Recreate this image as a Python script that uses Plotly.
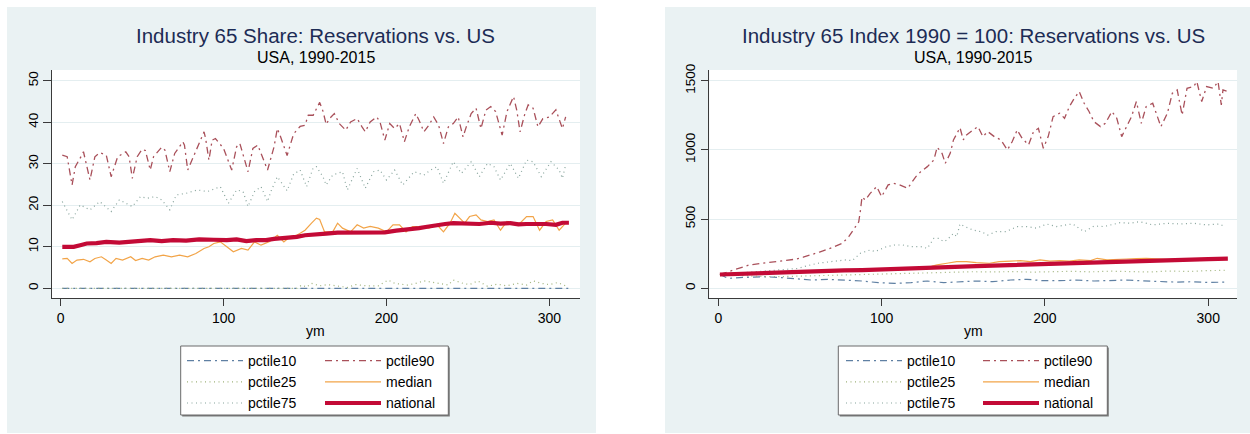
import plotly.graph_objects as go

# ---------------------------------------------------------------
# Monthly series (ym = months since Jan 1990), Industry 65
# ---------------------------------------------------------------

# Share panel (percent)
share_p10_x = [1, 60, 120, 180, 240, 312]
share_p10 = [0, 0, 0, 0, 0, 0]

share_p25_x = [1, 60, 120, 145, 148, 151, 154, 159, 164, 171, 176, 181, 188, 195, 201,
               205, 210, 213, 218, 223, 226, 232, 238, 241, 247, 251, 256, 262, 268,
               274, 280, 286, 290, 295, 300, 305, 310]
share_p25 = [0, 0, 0, 0, 0.8, 0.3, 1.2, 0.6, 0.9, 0.4, 0.2, 0.9, 0.6, 0.6, 2.0,
             1.2, 0.9, 0.8, 1.2, 1.8, 1.6, 1.2, 0.8, 2.0, 1.2, 0.9, 1.8, 0.5, 1.0,
             0.6, 1.2, 0.8, 1.8, 1.2, 0.9, 1.4, 0.6]

share_median_x = [1, 4, 7, 10, 14, 18, 21, 25, 28, 31, 34, 38, 43, 46, 50, 54, 58, 63,
                  68, 73, 78, 83, 88, 91, 94, 98, 102, 106, 111, 115, 119, 123, 128,
                  133, 137, 141, 145, 150, 154, 157, 159, 162, 167, 170, 173, 178, 182,
                  186, 190, 195, 200, 204, 208, 212, 216, 221, 226, 231, 235, 239, 242,
                  245, 248, 251, 255, 258, 262, 266, 270, 274, 278, 282, 286, 290, 294,
                  298, 302, 306, 310]
share_median = [7.1, 7.2, 6.0, 6.8, 7.0, 6.4, 7.2, 7.6, 6.8, 6.0, 7.2, 6.8, 7.6, 6.7,
                7.2, 6.8, 7.6, 8.0, 7.6, 8.0, 7.6, 8.4, 9.6, 10.0, 10.8, 11.2, 10.0, 8.8,
                9.6, 9.2, 11.2, 10.4, 11.2, 12.8, 11.2, 12.5, 12.8, 14.0, 15.7, 16.9,
                16.6, 13.6, 13.6, 15.7, 14.5, 13.6, 15.3, 14.5, 14.9, 14.5, 13.6, 15.3,
                15.3, 13.6, 14.9, 14.9, 14.5, 15.3, 13.6, 15.7, 18.1, 16.9, 15.7, 17.3,
                17.7, 16.5, 16.1, 16.5, 14.0, 16.1, 15.7, 15.7, 17.3, 17.3, 14.0, 16.1,
                16.5, 14.0, 15.7]

share_p75_x = [1, 7, 12, 18, 24, 31, 36, 44, 49, 53, 58, 62, 67, 71, 77, 84, 90, 98,
               103, 108, 112, 115, 119, 123, 127, 129, 133, 139, 143, 147, 151, 155, 157,
               161, 163, 167, 173, 176, 182, 187, 192, 196, 200, 205, 210, 217, 223, 227,
               231, 235, 241, 246, 252, 257, 262, 266, 270, 276, 281, 286, 290, 295, 301,
               306, 308, 310]
share_p75 = [20.9, 16.5, 20.1, 18.9, 20.9, 18.5, 21.3, 19.7, 22.1, 21.7, 22.1, 21.3,
             18.9, 22.5, 22.9, 23.7, 23.3, 24.5, 20.5, 23.7, 23.3, 19.7, 23.3, 24.5,
             20.9, 23.3, 26.9, 23.5, 27.5, 28.5, 24.5, 29.0, 29.3, 26.9, 24.9, 27.3,
             28.1, 23.7, 28.9, 24.1, 28.1, 28.5, 26.1, 28.5, 24.9, 28.1, 27.3, 28.5,
             29.3, 25.3, 30.5, 27.7, 30.5, 26.9, 30.1, 29.3, 26.1, 30.1, 26.5, 30.9,
             30.5, 26.9, 30.5, 28.5, 26.5, 29.7]

share_p90_x = [1, 4, 7, 9, 13, 14, 18, 21, 24, 28, 31, 35, 40, 42, 44, 47, 50, 52, 55,
               57, 62, 64, 67, 70, 75, 76, 78, 83, 88, 89, 91, 93, 95, 100, 105, 108,
               110, 115, 118, 121, 127, 131, 133, 135, 139, 143, 147, 150, 152, 155, 159,
               161, 163, 165, 168, 171, 175, 178, 182, 185, 187, 190, 194, 196, 199, 202,
               205, 208, 211, 214, 218, 220, 223, 226, 229, 232, 235, 238, 241, 244, 247,
               249, 252, 255, 258, 261, 264, 267, 271, 274, 278, 280, 282, 285, 287, 290,
               293, 296, 300, 304, 306, 308, 310]
share_p90 = [32.1, 31.7, 24.9, 29.3, 32.1, 32.9, 26.1, 31.7, 32.7, 32.1, 26.9, 31.7,
             32.9, 31.7, 26.5, 31.7, 33.5, 33.2, 28.5, 31.7, 34.0, 33.3, 28.1, 32.5,
             35.3, 34.5, 28.5, 33.3, 37.7, 36.1, 30.9, 35.7, 36.1, 33.7, 28.5, 34.1,
             34.9, 28.1, 33.7, 34.5, 28.5, 34.1, 38.5, 36.5, 32.0, 37.2, 39.0, 39.3,
             41.7, 41.7, 44.8, 42.7, 39.5, 40.9, 42.1, 39.7, 38.1, 40.1, 40.9, 38.9,
             37.7, 40.1, 41.3, 40.1, 35.7, 39.7, 38.5, 39.7, 35.3, 38.9, 42.1, 40.5,
             37.7, 39.3, 41.3, 39.3, 34.9, 38.9, 39.7, 41.3, 36.5, 38.9, 42.1, 43.4,
             38.5, 42.9, 43.8, 42.6, 36.9, 42.6, 46.2, 42.9, 37.7, 42.1, 44.2, 43.4,
             38.9, 40.9, 41.3, 43.0, 40.5, 38.5, 41.3]

share_national_x = [1, 5, 8, 12, 16, 22, 28, 36, 44, 50, 55, 62, 69, 77, 85, 94, 102,
                    108, 114, 120, 126, 131, 135, 140, 145, 150, 156, 163, 170, 176, 183,
                    192, 199, 206, 213, 220, 226, 231, 236, 241, 246, 251, 257, 264, 270,
                    276, 281, 286, 292, 298, 304, 308, 312]
share_national = [10.0, 10.1, 10.0, 10.4, 10.8, 10.9, 11.2, 11.0, 11.2, 11.3, 11.6, 11.4,
                  11.6, 11.5, 11.8, 11.7, 11.6, 11.8, 11.4, 11.6, 11.6, 11.9, 12.0, 12.2,
                  12.4, 12.8, 12.9, 13.2, 13.4, 13.4, 13.5, 13.6, 13.5, 13.9, 14.1, 14.5,
                  14.9, 15.3, 15.5, 15.7, 15.6, 15.7, 15.5, 15.8, 15.6, 15.7, 15.4, 15.5,
                  15.6, 15.5, 15.3, 15.8, 15.8]

# Index panel (1990 = 100)
index_p10_x = [1, 6, 16, 27, 37, 47, 57, 67, 78, 88, 98, 108, 118, 128, 138, 148, 158,
               168, 179, 189, 199, 209, 219, 230, 240, 250, 258, 270, 280, 290, 300, 310]
index_p10 = [100, 72, 79, 84, 79, 72, 60, 65, 60, 53, 41, 36, 41, 53, 41, 48, 53, 48,
             60, 65, 55, 55, 60, 53, 55, 60, 55, 50, 45, 48, 42, 45]

index_p25_x = [1, 12, 24, 36, 48, 60, 72, 84, 96, 108, 120, 132, 144, 156, 168, 180,
               192, 204, 216, 228, 240, 252, 264, 276, 288, 300, 310]
index_p25 = [100, 92, 86, 84, 88, 92, 96, 100, 104, 108, 112, 116, 118, 120, 118, 121,
             117, 120, 123, 119, 124, 121, 118, 125, 122, 128, 130]

index_median_x = [1, 20, 40, 60, 80, 100, 118, 128, 131, 134, 140, 146, 152, 158, 166,
                  172, 179, 185, 191, 197, 203, 209, 215, 221, 228, 232, 238, 244, 250,
                  256, 262, 275, 287, 299, 311]
index_median = [100, 104, 110, 117, 124, 132, 138, 141, 160, 169, 181, 193, 193, 185,
                181, 193, 197, 200, 193, 205, 197, 200, 197, 205, 200, 217, 205, 210,
                212, 214, 217, 210, 214, 217, 220]

index_p75_x = [1, 10, 20, 30, 40, 49, 55, 61, 69, 78, 82, 87, 93, 96, 103, 108, 113,
               118, 124, 128, 132, 135, 138, 140, 144, 146, 148, 151, 156, 161, 165, 170,
               176, 183, 189, 195, 201, 207, 213, 217, 224, 230, 236, 242, 246, 252, 258,
               266, 275, 283, 291, 299, 307, 310]
index_p75 = [100, 108, 118, 128, 135, 144, 165, 181, 193, 205, 200, 253, 277, 265, 301,
             313, 313, 301, 301, 289, 361, 361, 337, 349, 397, 373, 465, 446, 421, 409,
             385, 409, 409, 446, 446, 434, 465, 446, 458, 465, 409, 450, 446, 465, 474,
             470, 482, 458, 470, 465, 470, 458, 465, 446]

index_p90_x = [1, 6, 12, 19, 27, 33, 41, 47, 52, 57, 62, 67, 72, 76, 80, 84, 86, 87, 88,
               90, 93, 97, 100, 104, 107, 111, 116, 121, 124, 128, 132, 134, 137, 139,
               142, 144, 148, 150, 152, 156, 159, 162, 165, 169, 173, 177, 180, 183, 186,
               190, 193, 196, 199, 202, 205, 209, 212, 215, 218, 221, 224, 227, 230, 234,
               237, 241, 244, 247, 250, 253, 256, 259, 262, 266, 271, 275, 278, 281, 284,
               287, 291, 293, 296, 299, 303, 306, 308, 309, 312]
index_p90 = [100, 120, 144, 169, 181, 190, 205, 210, 225, 241, 262, 282, 305, 325, 375,
             440, 480, 560, 660, 638, 686, 735, 662, 747, 759, 747, 723, 807, 843, 879,
             927, 1020, 975, 903, 975, 1072, 1160, 1072, 1108, 1144, 1168, 1096, 1132,
             1096, 1072, 1000, 1060, 1144, 1084, 1036, 1132, 1156, 1012, 1096, 1240,
             1265, 1228, 1313, 1373, 1421, 1337, 1277, 1204, 1168, 1192, 1277, 1228,
             1096, 1168, 1240, 1349, 1192, 1313, 1337, 1168, 1265, 1409, 1433, 1252,
             1445, 1457, 1493, 1349, 1457, 1445, 1493, 1325, 1433, 1421]

index_national_x = [1, 14, 26, 37, 47, 57, 67, 77, 88, 98, 108, 118, 128, 138, 148, 158,
                    168, 178, 188, 199, 209, 219, 229, 240, 250, 258, 270, 280, 290, 300,
                    312]
index_national = [100, 106, 112, 115, 119, 123, 126, 129, 132, 135, 138, 141, 145, 150,
                  155, 160, 164, 168, 172, 176, 180, 184, 188, 192, 196, 200, 203, 206,
                  208, 211, 214]

x_ticks = [0, 100, 200, 300]
share_ticks = [0, 10, 20, 30, 40, 50]
index_ticks = [0, 500, 1000, 1500]

# ---------------------------------------------------------------
# Styling
# ---------------------------------------------------------------
W, H = 1250, 434
FONT = "Liberation Sans, Arial, sans-serif"
REGION = "#eaf2f3"
AXIS = "#3a3a3a"

DASHDOT = "7px,4px,2px,4px"
DOT = "1px,3.5px"

series_style = {
    "pctile10": dict(color="#5f80a3", width=1.2, dash=DASHDOT),
    "pctile90": dict(color="#a9505a", width=1.3, dash=DASHDOT),
    "pctile25": dict(color="#9fb27a", width=1.2, dash=DOT),
    "median": dict(color="#f2a448", width=1.2, dash="solid"),
    "pctile75": dict(color="#86a39b", width=1.2, dash=DOT),
    "national": dict(color="#c30a36", width=4.2, dash="solid"),
}


def px_x(p):
    return p / W


def px_y(p):
    return 1 - p / H


# plot areas in pixels: (left, right, top, bottom)
panels = {
    "left": dict(box=(51.7, 580.0, 70.0, 298.3), xr=[-5.5, 318.8], yr=[-2.4, 52.6],
                 region=(7, 596, 7, 433), legend_box=(180.7, 448.3, 346, 415),
                 legend_cols=(182, 320)),
    "right": dict(box=(709.3, 1237.0, 70.0, 298.3), xr=[-5.5, 317.6], yr=[-72, 1577],
                  region=(665, 1250, 7, 433), legend_box=(838.3, 1107.3, 346, 415),
                  legend_cols=(841, 978)),
}

fig = go.Figure()

share_data = [
    ("pctile10", share_p10_x, share_p10),
    ("pctile90", share_p90_x, share_p90),
    ("pctile25", share_p25_x, share_p25),
    ("median", share_median_x, share_median),
    ("pctile75", share_p75_x, share_p75),
    ("national", share_national_x, share_national),
]
index_data = [
    ("pctile10", index_p10_x, index_p10),
    ("pctile90", index_p90_x, index_p90),
    ("pctile25", index_p25_x, index_p25),
    ("median", index_median_x, index_median),
    ("pctile75", index_p75_x, index_p75),
    ("national", index_national_x, index_national),
]

col_of = {"pctile10": 0, "pctile25": 0, "pctile75": 0,
          "pctile90": 1, "median": 1, "national": 1}

for panel_idx, (data, xa, ya) in enumerate([(share_data, "x", "y"), (index_data, "x2", "y2")]):
    for name, xs, ys in data:
        leg_num = panel_idx * 2 + col_of[name] + 1
        fig.add_trace(go.Scatter(
            x=xs, y=ys, name=name, mode="lines",
            line=series_style[name],
            xaxis=xa, yaxis=ya,
            legend="legend" if leg_num == 1 else f"legend{leg_num}",
        ))

shapes = []
annotations = []
layout_axes = {}
legends = {}

for i, (key, p) in enumerate(panels.items()):
    l, r, t, b = p["box"]
    rl, rr, rt, rb = p["region"]
    # light graph region and white plot region
    shapes.append(dict(type="rect", xref="paper", yref="paper", layer="below",
                       x0=px_x(rl), x1=px_x(rr), y0=px_y(rb), y1=px_y(rt),
                       fillcolor=REGION, line=dict(width=0)))
    shapes.append(dict(type="rect", xref="paper", yref="paper", layer="below",
                       x0=px_x(l), x1=px_x(r), y0=px_y(b), y1=px_y(t),
                       fillcolor="white", line=dict(width=0)))
    # legend frame with shadow
    bl, br, bt, bb = p["legend_box"]
    shapes.append(dict(type="rect", xref="paper", yref="paper", layer="below",
                       x0=px_x(bl + 1.5), x1=px_x(br + 1.5), y0=px_y(bb + 1.5), y1=px_y(bt + 1.5),
                       fillcolor="#7a7a7a", line=dict(width=0)))
    shapes.append(dict(type="rect", xref="paper", yref="paper", layer="below",
                       x0=px_x(bl), x1=px_x(br), y0=px_y(bb), y1=px_y(bt),
                       fillcolor="white", line=dict(color="#6a6a6a", width=1)))

    sfx = "" if i == 0 else "2"
    layout_axes[f"xaxis{sfx}"] = dict(
        domain=[px_x(l), px_x(r)], range=p["xr"], anchor=f"y{sfx}",
        tickmode="array", tickvals=x_ticks, ticks="outside", ticklen=7, tickwidth=1,
        tickcolor=AXIS, showline=True, linecolor=AXIS, linewidth=1, showgrid=False,
        zeroline=False, tickfont=dict(family=FONT, size=14, color="black"),
    )
    layout_axes[f"yaxis{sfx}"] = dict(
        domain=[px_y(b), px_y(t)], range=p["yr"], anchor=f"x{sfx}",
        tickmode="array", tickvals=share_ticks if i == 0 else index_ticks,
        ticks="outside", ticklen=7.5, tickwidth=1, tickcolor=AXIS, tickangle=-90,
        showline=True, linecolor=AXIS, linewidth=1, showgrid=True, gridcolor="#e4eef0",
        gridwidth=1, zeroline=False, tickfont=dict(family=FONT, size=13.5, color="black"),
    )

    cx = (l + r) / 2
    title = ("Industry 65 Share: Reservations vs. US" if i == 0
             else "Industry 65 Index 1990 = 100: Reservations vs. US")
    annotations.append(dict(text=title, x=px_x(cx), y=px_y(35), xref="paper", yref="paper",
                            xanchor="center", yanchor="middle", showarrow=False,
                            font=dict(family=FONT, size=20.5, color="#1d2c55")))
    annotations.append(dict(text="USA, 1990-2015", x=px_x(cx), y=px_y(58), xref="paper",
                            yref="paper", xanchor="center", yanchor="middle", showarrow=False,
                            font=dict(family=FONT, size=16, color="black")))
    annotations.append(dict(text="ym", x=px_x(cx), y=px_y(331), xref="paper", yref="paper",
                            xanchor="center", yanchor="middle", showarrow=False,
                            font=dict(family=FONT, size=14, color="black")))

    for c, lx in enumerate(p["legend_cols"]):
        n = i * 2 + c + 1
        legends["legend" if n == 1 else f"legend{n}"] = dict(
            x=px_x(lx), y=px_y(345), xanchor="left", yanchor="top", orientation="v",
            bgcolor="rgba(0,0,0,0)", borderwidth=0, itemwidth=56, tracegroupgap=0,
            font=dict(family=FONT, size=14, color="black"), itemclick=False,
            itemdoubleclick=False,
        )

fig.update_layout(
    width=W, height=H,
    margin=dict(l=0, r=0, t=0, b=0, autoexpand=False),
    paper_bgcolor="white", plot_bgcolor="white",
    showlegend=True,
    shapes=shapes, annotations=annotations,
    **layout_axes, **legends,
)

fig.write_html("out.html")
